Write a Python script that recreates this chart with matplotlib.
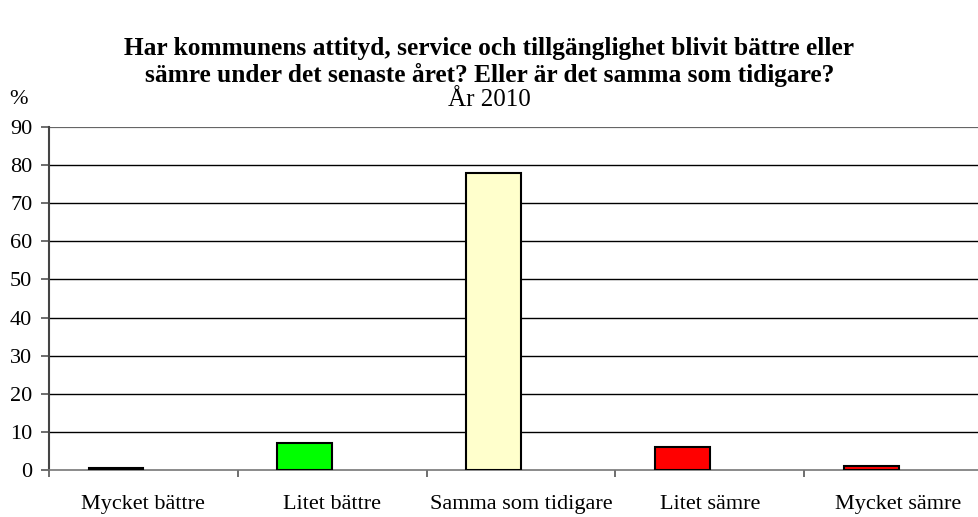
import matplotlib.pyplot as plt

categories = ['Mycket bättre', 'Litet bättre', 'Samma som tidigare', 'Litet sämre', 'Mycket sämre']
values = [0.5, 7, 78, 6, 1]
colors = ['#000000', '#00ff00', '#ffffcc', '#ff0000', '#ff0000']
yticks = [0, 10, 20, 30, 40, 50, 60, 70, 80, 90]

plt.rcParams['font.family'] = ['Liberation Serif', 'DejaVu Serif']

fig = plt.figure(figsize=(9.79, 5.17), dpi=100)
# axes runs past the right edge of the figure, as in the original
ax = fig.add_axes([49 / 979, 47 / 517, 944 / 979, 343 / 517])

x = range(len(categories))
bw = 0.29
ax.bar([i - bw / 2 for i in x], values, width=bw, color=colors,
       edgecolor='black', linewidth=1.5, zorder=3)

ax.set_xlim(-0.5, len(categories) - 0.5)
ax.set_ylim(0, 90)
ax.set_yticks(yticks)
ax.set_yticklabels([str(t) for t in yticks], fontsize=16)
for t in yticks[1:-1]:
    ax.axhline(t, color='black', linewidth=1, zorder=1)
ax.axhline(90, color='#666666', linewidth=1.6, zorder=1)

ax.set_xticks(list(x))
ax.set_xticklabels(categories, fontsize=16)
ax.set_xticks([i - 0.5 for i in range(len(categories) + 1)], minor=True)
ax.tick_params(axis='x', which='major', length=0, pad=18)
ax.tick_params(axis='x', which='minor', length=5, color='#555555', width=1.2)
ax.tick_params(axis='y', length=6, color='#555555', width=1.2, pad=6)

for s in ['top', 'right']:
    ax.spines[s].set_visible(False)
ax.spines['left'].set_color('#444444')
ax.spines['left'].set_linewidth(1.5)
ax.spines['bottom'].set_color('#777777')
ax.spines['bottom'].set_linewidth(1.2)

fig.text(0.5, 1 - 48 / 517, 'Har kommunens attityd, service och tillgänglighet blivit bättre eller',
         ha='center', va='center', fontsize=18.3, fontweight='bold')
fig.text(0.5, 1 - 75 / 517, 'sämre under det senaste året? Eller är det samma som tidigare?',
         ha='center', va='center', fontsize=18.3, fontweight='bold')
fig.text(0.5, 1 - 100 / 517, 'År 2010', ha='center', va='center', fontsize=18)
fig.text(19 / 979, 1 - 100 / 517, '%', ha='center', va='center', fontsize=16)

fig.savefig('out.png', dpi=100)
